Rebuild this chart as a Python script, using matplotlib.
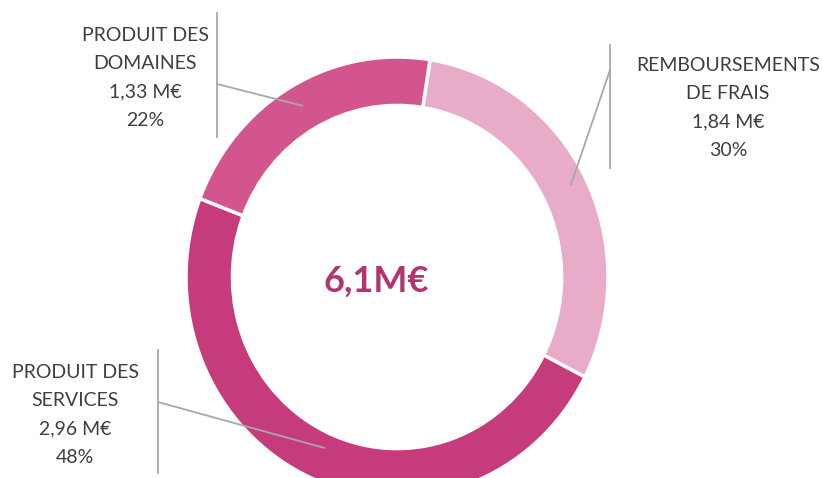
import numpy as np
import matplotlib
matplotlib.use("Agg")
import matplotlib.pyplot as plt

# data
categories = ["REMBOURSEMENTS\nDE FRAIS", "PRODUIT DES\nSERVICES", "PRODUIT DES\nDOMAINES"]
amounts = [1.84, 2.96, 1.33]
amount_labels = ["1,84 M€", "2,96 M€", "1,33 M€"]
percent_labels = ["30%", "48%", "22%"]
total_label = "6,1M€"

colors = ["#e8abc8", "#c63b7b", "#d2558d"]

W, H = 822, 478
fig = plt.figure(figsize=(W / 100, H / 100), dpi=100)
plt.rcParams['font.family'] = ['Lato', 'DejaVu Sans']

# ring axes (slightly elliptical like the scan)
cx, cy, rx, ry = 397, 277, 211, 220
ax = fig.add_axes([(cx - rx) / W, (H - cy - ry) / H, 2 * rx / W, 2 * ry / H])
wedges, _ = ax.pie(amounts, colors=colors, startangle=81, counterclock=False,
                   radius=1.0, wedgeprops=dict(width=0.22, edgecolor="white", linewidth=2.5))
ax.set_aspect("auto")
ax.set_xlim(-1, 1)
ax.set_ylim(-1, 1)
ax.axis("off")

# overlay in pixel coordinates for labels and leader lines
lay = fig.add_axes([0, 0, 1, 1], zorder=3)
lay.set_xlim(0, W)
lay.set_ylim(H, 0)
lay.axis("off")

ax.text(-0.1, -0.02, total_label, ha="center", va="center", fontsize=26,
        fontweight="bold", color="#b13670")

# layout: label centre x, first line y, vertical rule x / y-range, elbow y, radius
layout = [
    dict(tx=728, ty=65, vx=610, vy=(45, 168), ey=70, r=0.925),
    dict(tx=75, ty=372, vx=158, vy=(350, 473), ey=402, r=0.85),
    dict(tx=145, ty=35, vx=217, vy=(13, 137), ey=84, r=0.90),
]

line_col = "#a8a8a8"
for w, cat, amt, pct, lo in zip(wedges, categories, amount_labels, percent_labels, layout):
    mid = np.deg2rad((w.theta1 + w.theta2) / 2)
    px = ax.transData.transform((lo["r"] * np.cos(mid), lo["r"] * np.sin(mid)))
    ex, ey = lay.transData.inverted().transform(px)
    lay.plot([lo["vx"], lo["vx"]], lo["vy"], color=line_col, lw=1.3)
    lay.plot([lo["vx"], ex], [lo["ey"], ey], color=line_col, lw=1.3)
    lines = cat.split("\n") + [amt, pct]
    for i, s in enumerate(lines):
        lay.text(lo["tx"], lo["ty"] + i * 28.5, s, ha="center", va="center",
                 fontsize=14, color="#3c4040")

fig.savefig("out.png", dpi=100, facecolor="white")
